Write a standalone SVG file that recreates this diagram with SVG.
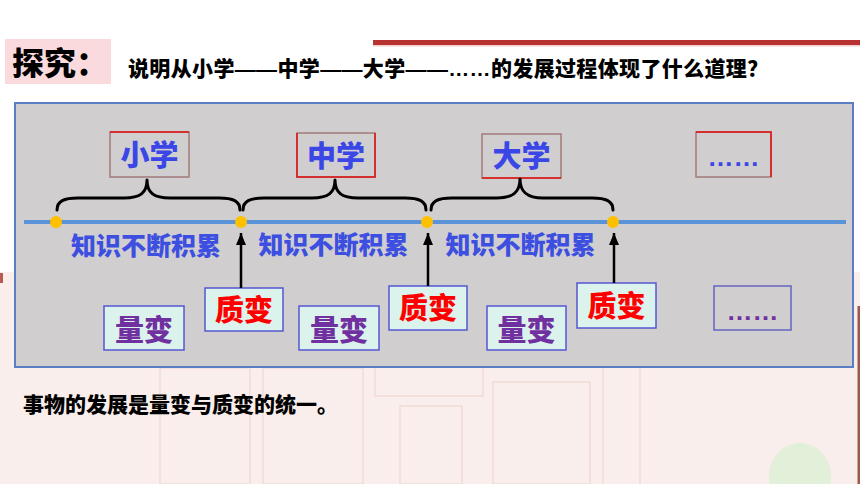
<svg xmlns="http://www.w3.org/2000/svg" width="860" height="484" viewBox="0 0 860 484">
<defs>
<style>
text{font-family:"Noto Sans CJK SC","Noto Sans",sans-serif;font-weight:900;}
.mid{text-anchor:middle;}
.lat{font-family:"Liberation Sans",Arial,sans-serif;font-weight:700;}
.lvl{fill:#3b46e6;font-size:29px;}
.acc{fill:#3d4fe0;font-size:25px;}
.qual{fill:#ff0000;font-size:29px;}
.quant{fill:#7030a0;font-size:29px;}
.topbox{fill:none;stroke:#a27a7a;stroke-width:1.5;}
.redge{stroke:#e01010;stroke-width:1.5;fill:none;}
.botbox{fill:#dcf2ec;stroke:#5656d4;stroke-width:1.5;}
.dots{font-family:"Liberation Sans",Arial,sans-serif;font-weight:700;font-size:26px;text-anchor:middle;}
.brace{fill:none;stroke:#000;stroke-width:3;stroke-linecap:round;stroke-linejoin:round;}
.arrow{stroke:#000;stroke-width:2.5;fill:none;marker-end:url(#ah);}
.dot{fill:#ffc000;}
.gate{fill:none;stroke:#f2dbd6;stroke-width:1.5;}
</style>
<marker id="ah" markerUnits="userSpaceOnUse" markerWidth="12" markerHeight="10" viewBox="0 0 12 10" refX="12" refY="5" orient="auto">
<path d="M0,0 L12,5 L0,10 Z" fill="#000"/>
</marker>
</defs>

<rect width="860" height="484" fill="#ffffff"/>

<g id="background-photo">
<rect x="0" y="272" width="860" height="212" fill="#f9eeeb"/>
<rect x="0" y="273" width="3" height="10" fill="#b85c50"/>
<rect x="857.5" y="306" width="2.5" height="178" fill="#a0584a"/>
<rect class="gate" x="160" y="368" width="90" height="116"/>
<rect class="gate" x="263" y="368" width="100" height="116"/>
<rect class="gate" x="375" y="362" width="108" height="34"/>
<rect class="gate" x="400" y="406" width="62" height="78"/>
<rect class="gate" x="493" y="382" width="97" height="102"/>
<line class="gate" x1="603" y1="368" x2="603" y2="484"/>
<line class="gate" x1="640" y1="368" x2="640" y2="484"/>
<ellipse cx="800" cy="476" rx="31" ry="33" fill="#e2efd9"/>
</g>

<g id="header">
<rect x="5" y="39" width="106" height="45" fill="#fadadd"/>
<text x="12" y="75" font-size="32" fill="#000">探究：</text>
<rect x="373" y="40" width="487" height="5" fill="#b83232"/>
<rect x="373" y="45" width="487" height="1.5" fill="#f2d0d0"/>
<text x="128" y="76" font-size="21" fill="#000" letter-spacing="0.35">说明从小学<tspan class="lat">——</tspan>中学<tspan class="lat">——</tspan>大学<tspan class="lat">——……</tspan>的发展过程体现了什么道理？</text>
</g>

<g id="panel">
<rect x="15" y="103" width="838" height="264" fill="#d0cece" stroke="#5a7ec4" stroke-width="2"/>
</g>

<g id="timeline">
<line x1="24" y1="222" x2="846" y2="222" stroke="#5b93d8" stroke-width="4"/>
<circle class="dot" cx="56" cy="222" r="6"/>
<circle class="dot" cx="241" cy="222" r="6"/>
<circle class="dot" cx="427" cy="222" r="6"/>
<circle class="dot" cx="613" cy="222" r="6"/>
</g>

<g id="node-primary">
<rect class="topbox" x="110" y="132" width="79" height="45"/>
<line class="redge" x1="110" y1="132" x2="189" y2="132"/>
<text class="lvl mid" x="149.5" y="166">小学</text>
</g>
<g id="node-middle">
<rect class="topbox" x="297" y="133" width="78" height="44"/>
<path class="redge" d="M297,133 L297,177 L375,177 L375,133"/>
<text class="lvl mid" x="336" y="167">中学</text>
</g>
<g id="node-university">
<rect class="topbox" x="482" y="134" width="79" height="44"/>
<line class="redge" x1="482" y1="178" x2="561" y2="178"/>
<text class="lvl mid" x="521.5" y="167">大学</text>
</g>
<g id="node-more-top">
<rect class="topbox" x="696" y="132" width="75" height="45"/>
<path class="redge" d="M696,132 L771,132 L771,177"/>
<text class="dots" x="733.5" y="166" fill="#3b46e6">……</text>
</g>

<g id="labels-accumulate">
<text class="acc mid" x="146" y="255">知识不断积累</text>
<text class="acc mid" x="333.5" y="254">知识不断积累</text>
<text class="acc mid" x="520.5" y="254">知识不断积累</text>
</g>

<g id="node-quant-1">
<rect class="botbox" x="104" y="306" width="80" height="44"/>
<text class="quant mid" x="144" y="341">量变</text>
</g>
<g id="node-qual-1">
<rect class="botbox" x="205" y="288" width="78" height="43"/>
<text class="qual mid" x="244" y="321">质变</text>
</g>
<g id="node-quant-2">
<rect class="botbox" x="299" y="306" width="80" height="44"/>
<text class="quant mid" x="339" y="341">量变</text>
</g>
<g id="node-qual-2">
<rect class="botbox" x="389" y="286" width="78" height="44"/>
<text class="qual mid" x="428" y="319">质变</text>
</g>
<g id="node-quant-3">
<rect class="botbox" x="487" y="306" width="79" height="44"/>
<text class="quant mid" x="526.5" y="341">量变</text>
</g>
<g id="node-qual-3">
<rect class="botbox" x="577" y="283" width="79" height="45"/>
<text class="qual mid" x="616.5" y="317">质变</text>
</g>
<g id="node-more-bottom">
<rect x="714" y="286" width="77" height="44" fill="none" stroke="#6464c0" stroke-width="1.5"/>
<text class="dots" x="752.5" y="320" fill="#7030a0">……</text>
</g>

<g id="connectors">
<path class="brace" d="M57,210 C57,201 64,198 78,198 L124,198 C140,198 147,193 147,180 C147,193 154,198 170,198 L219,198 C233,198 240,201 240,210"/>
<path class="brace" d="M243,210 C243,201 250,198 264,198 L312,198 C328,198 335,193 335,180 C335,193 342,198 358,198 L405,198 C419,198 426,201 426,210"/>
<path class="brace" d="M431,210 C431,201 438,198 452,198 L497,198 C513,198 520,192 520,179 C520,192 527,198 543,198 L592,198 C606,198 613,201 613,210"/>
<line class="arrow" x1="241" y1="288" x2="241" y2="233"/>
<line class="arrow" x1="428" y1="286" x2="428" y2="233"/>
<line class="arrow" x1="614" y1="283" x2="614" y2="233"/>
</g>

<g id="conclusion">
<text x="23" y="412" font-size="21" fill="#000">事物的发展是量变与质变的统一。</text>
</g>
</svg>
